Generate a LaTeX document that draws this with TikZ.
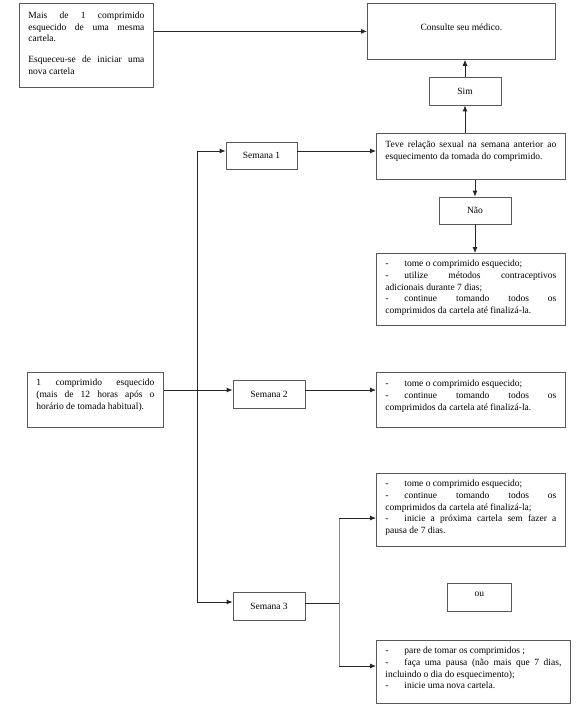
\documentclass[tikz,border=0pt]{standalone}
\usepackage{fontspec}
\setmainfont{Liberation Serif}
\usetikzlibrary{arrows.meta}
\newcommand{\boxtxt}[4]{\parbox[c][#2pt][t]{#1pt}{\leftskip=9pt\rightskip=9pt\parindent=0pt\tolerance=10000\hbadness=10000\emergencystretch=0pt\rule{0pt}{#3pt}#4}}
\newcommand{\dsh}{\makebox[19pt][l]{-}}
\tikzset{
  x=1pt, y=-1pt,
  every node/.style={font=\fontsize{9.5}{11.8}\selectfont},
  bx/.style={draw=black!65, line width=0.8pt, inner sep=0pt, fill=white},
  sbx/.style={bx, minimum width=#1, minimum height=28pt},
  ln/.style={draw=black!85, line width=0.8pt},
  arr/.style={ln, -{Latex[length=6pt,width=5pt]}}
}
\begin{document}
\begin{tikzpicture}
\fill[white] (0,0) rectangle (578,706);
\useasboundingbox (0,0) rectangle (578,706);

% boxes
\node[bx, anchor=north west] (A) at (19,3) {\boxtxt{134}{84}{15}{Mais de 1 comprimido\linebreak esquecido de uma mesma\linebreak cartela.\par\vspace{9pt}Esqueceu-se de iniciar uma\linebreak nova cartela}};
\node[bx, anchor=north west] (cons) at (367,3) {\boxtxt{188}{56}{27}{\centering Consulte seu médico.\par}};
\node[sbx=72pt] (sim) at (465,91) {Sim};
\node[bx, anchor=north west] (teve) at (376,133) {\boxtxt{189}{46}{14}{Teve relação sexual na semana anterior ao\linebreak esquecimento da tomada do comprimido.}};
\node[sbx=71pt, minimum height=27pt] (sem1) at (261.5,155.5) {Semana 1};
\node[sbx=72pt, minimum height=27pt] (nao) at (475,210.5) {Não};
\node[bx, anchor=north west] (B) at (376,253) {\boxtxt{189}{72}{13}{\dsh tome o comprimido esquecido;\par
\dsh utilize métodos contraceptivos\linebreak adicionais durante 7 dias;\par
\dsh continue tomando todos os\linebreak comprimidos da cartela até finalizá-la.}};
\node[bx, anchor=north west] (C) at (27,372) {\boxtxt{136}{55}{13}{1 comprimido esquecido\linebreak (mais de 12 horas após o\linebreak horário de tomada habitual).}};
\node[sbx=72pt] (sem2) at (269,394) {Semana 2};
\node[bx, anchor=north west] (D) at (376,372) {\boxtxt{189}{55}{14}{\dsh tome o comprimido esquecido;\par
\dsh continue tomando todos os\linebreak comprimidos da cartela até finalizá-la.}};
\node[bx, anchor=north west] (E) at (376,473) {\boxtxt{189}{73}{13}{\dsh tome o comprimido esquecido;\par
\dsh continue tomando todos os\linebreak comprimidos da cartela até finalizá-la;\par
\dsh inicie a próxima cartela sem fazer a\linebreak pausa de 7 dias.}};
\node[bx, anchor=north west] (ou) at (447,583) {\boxtxt{64}{28}{13}{\centering ou\par}};
\node[sbx=72pt] (sem3) at (269,606) {Semana 3};
\node[bx, anchor=north west] (F) at (376,640) {\boxtxt{194}{63}{13}{\dsh pare de tomar os comprimidos ;\par
\dsh faça uma pausa (não mais que 7 dias,\linebreak incluindo o dia do esquecimento);\par
\dsh inicie uma nova cartela.}};

% junction points
\coordinate (t1) at (197,151);
\coordinate (j2) at (197,390);
\coordinate (t3) at (197,602);
\coordinate (e1) at (339,518);
\coordinate (m3) at (339,603);
\coordinate (f1) at (339,666);

% connectors
\draw[arr] (A.east |- cons.west) -- (cons.west);
\draw[arr] (sim.north) -- (sim.north |- cons.south);
\draw[arr] (sim.south |- teve.north) -- (sim.south);
\draw[arr] (nao.north |- teve.south) -- (nao.north);
\draw[arr] (nao.south) -- (nao.south |- B.north);
\draw[ln] (t1) -- (t3);
\draw[arr] (t1) -- (t1 -| sem1.west);
\draw[arr] (sem1.east |- t1) -- (t1 -| teve.west);
\draw[arr] (C.east |- j2) -- (j2 -| sem2.west);
\draw[arr] (sem2.east |- j2) -- (j2 -| D.west);
\draw[arr] (t3) -- (t3 -| sem3.west);
\draw[ln] (sem3.east |- m3) -- (m3);
\draw[ln, draw=black!45] (e1) -- (f1);
\draw[arr] (e1) -- (e1 -| E.west);
\draw[arr] (f1) -- (f1 -| F.west);
\end{tikzpicture}
\end{document}
